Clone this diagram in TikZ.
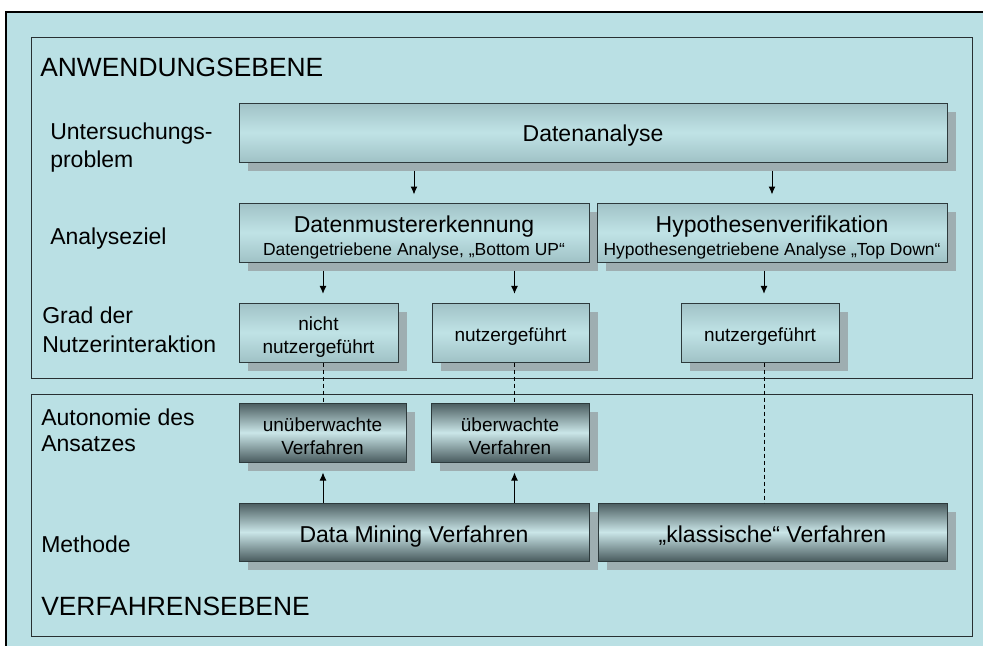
\documentclass[tikz,border=0pt]{standalone}
\usepackage{fontspec}
\setmainfont{Liberation Sans}
\usetikzlibrary{shadows,arrows.meta}

\definecolor{panelbg}{RGB}{186,224,228}
\definecolor{frameline}{RGB}{40,48,50}
\definecolor{boxline}{RGB}{45,58,60}
\definecolor{shadowgray}{RGB}{158,174,177}
\definecolor{upedge}{RGB}{160,194,198}
\definecolor{upmid}{RGB}{192,227,230}
\definecolor{lowedge}{RGB}{74,92,95}
\definecolor{lowmid}{RGB}{202,230,232}

\newcommand\ftitle{\fontsize{19.8pt}{24pt}\selectfont}
\newcommand\flabel{\fontsize{17.25pt}{19.5pt}\selectfont}
\newcommand\fbig{\fontsize{17.25pt}{19.5pt}\selectfont}
\newcommand\fmid{\fontsize{14.25pt}{16.75pt}\selectfont}
\newcommand\fsub{\fontsize{13.1pt}{15.75pt}\selectfont}

\tikzset{
  sz/.style 2 args={minimum width=#1*0.75pt, minimum height=#2*0.75pt, inner sep=0pt},
  boxbase/.style={draw=boxline, line width=0.75pt,
    general shadow={fill=shadowgray, shadow xshift=6.75pt, shadow yshift=-6.75pt}},
  upbox/.style={boxbase, top color=upedge, bottom color=upedge, middle color=upmid},
  lowbox/.style={boxbase, top color=lowedge, bottom color=lowedge, middle color=lowmid},
  boxtext/.style={align=center, inner sep=0pt, text=black},
  lbl/.style={anchor=base west, align=left, inner sep=0pt, font=\flabel},
  ebene/.style={anchor=base west, inner sep=0pt, font=\ftitle},
  arr/.style={-{Latex[length=6pt,width=5.25pt]}, line width=0.75pt, black},
  linkline/.style={line width=0.75pt, black, dash pattern=on 3pt off 2.25pt},
  panel/.style={draw=frameline, line width=0.75pt}
}

\begin{document}
\begin{tikzpicture}[x=0.75pt,y=-0.75pt]
  % page and outer frame
  \fill[white] (0,0) rectangle (983,646);
  \useasboundingbox (0,0) rectangle (983,646);
  \fill[panelbg] (6,12) rectangle (983,646);
  \draw[black, line width=0.9pt] (6,646) -- (6,12) -- (983,12);

  % the two levels
  \draw[panel] (31,37) rectangle (972,378);
  \draw[panel] (31,394) rectangle (972,636);

  % column positions of the connectors
  \coordinate (c1) at (323,0);
  \coordinate (c2) at (514.5,0);
  \coordinate (c3) at (764,0);

  % level titles and row labels (anchored on the last baseline)
  \node[ebene] (anw) at (40,76) {ANWENDUNGSEBENE};
  \node[ebene] (verf) at (41,615) {VERFAHRENSEBENE};
  \node[lbl] (l1) at (50,167) {Untersuchungs-\\[1.5pt]problem};
  \node[lbl] (l2) at (50,244) {Analyseziel};
  \node[lbl] (l3) at (42,352) {Grad der\\[2pt]Nutzerinteraktion};
  \node[lbl] (l4) at (41,451) {Autonomie des\\Ansatzes};
  \node[lbl] (l5) at (41,552) {Methode};

  % application level boxes
  \node[upbox, sz={708}{59}] (da)  at (593,132.5) {};
  \node[upbox, sz={350}{59}] (dm)  at (414,232.5) {};
  \node[upbox, sz={350}{59}] (hv)  at (772,232.5) {};
  \node[upbox, sz={159}{59}] (nn)  at (318.5,332.5) {};
  \node[upbox, sz={157}{59}] (ng1) at (510.5,332.5) {};
  \node[upbox, sz={158}{59}] (ng2) at (760,332.5) {};

  % method level boxes
  \node[lowbox, sz={167}{59}] (uv)  at (322.5,432.5) {};
  \node[lowbox, sz={158}{59}] (ov)  at (510,432.5) {};
  \node[lowbox, sz={350}{58}] (dmv) at (414,532) {};
  \node[lowbox, sz={349}{58}] (kv)  at (772.5,532) {};

  % box texts
  \node[boxtext, font=\fbig] (da-t) at ([yshift=-2.5pt]da.center) {Datenanalyse};
  \node[boxtext, font=\fsub] (dm-t) at ([yshift=-3.5pt]dm.center)
    {{\fbig Datenmustererkennung}\\[1.5pt]Datengetriebene Analyse, „Bottom UP“};
  \node[boxtext, font=\fsub] (hv-t) at ([yshift=-3.5pt]hv.center)
    {{\fbig Hypothesenverifikation}\\[1.5pt]Hypothesengetriebene Analyse „Top Down“};
  \node[boxtext, font=\fmid] (nn-t)  at ([yshift=-3.5pt]nn.center) {nicht\\[0.5pt]nutzergeführt};
  \node[boxtext, font=\fmid] (ng1-t) at ([yshift=-3pt]ng1.center) {nutzergeführt};
  \node[boxtext, font=\fmid] (ng2-t) at ([yshift=-3pt]ng2.center) {nutzergeführt};
  \node[boxtext, font=\fmid] (uv-t)  at ([yshift=-2.5pt]uv.center) {unüberwachte\\[0.5pt]Verfahren};
  \node[boxtext, font=\fmid] (ov-t)  at ([yshift=-2.5pt]ov.center) {überwachte\\[0.5pt]Verfahren};
  \node[boxtext, font=\fbig] (dmv-t) at ([yshift=-3.5pt]dmv.center) {Data Mining Verfahren};
  \node[boxtext, font=\fbig] (kv-t)  at ([yshift=-3pt]kv.center) {„klassische“ Verfahren};

  % arrows within the application level
  \draw[arr, shorten <=6pt, shorten >=6pt] (da.south -| dm.north) -- (dm.north);
  \draw[arr, shorten <=6pt, shorten >=6pt] (da.south -| hv.north) -- (hv.north);
  \draw[arr, shorten <=6pt, shorten >=6.5pt] (dm.south -| c1) -- (nn.north -| c1);
  \draw[arr, shorten <=6pt, shorten >=6.5pt] (dm.south -| c2) -- (ng1.north -| c2);
  \draw[arr, shorten <=6pt, shorten >=6.5pt] (hv.south -| c3) -- (ng2.north -| c3);

  % links between the levels
  \draw[linkline] (nn.south -| c1) -- (uv.north -| c1);
  \draw[linkline] (ng1.south -| c2) -- (ov.north -| c2);
  \draw[linkline] (ng2.south -| c3) -- (kv.north -| c3);

  % arrows within the method level
  \draw[arr, shorten >=7.5pt] (dmv.north -| c1) -- (uv.south -| c1);
  \draw[arr, shorten >=7.5pt] (dmv.north -| c2) -- (ov.south -| c2);
\end{tikzpicture}
\end{document}
